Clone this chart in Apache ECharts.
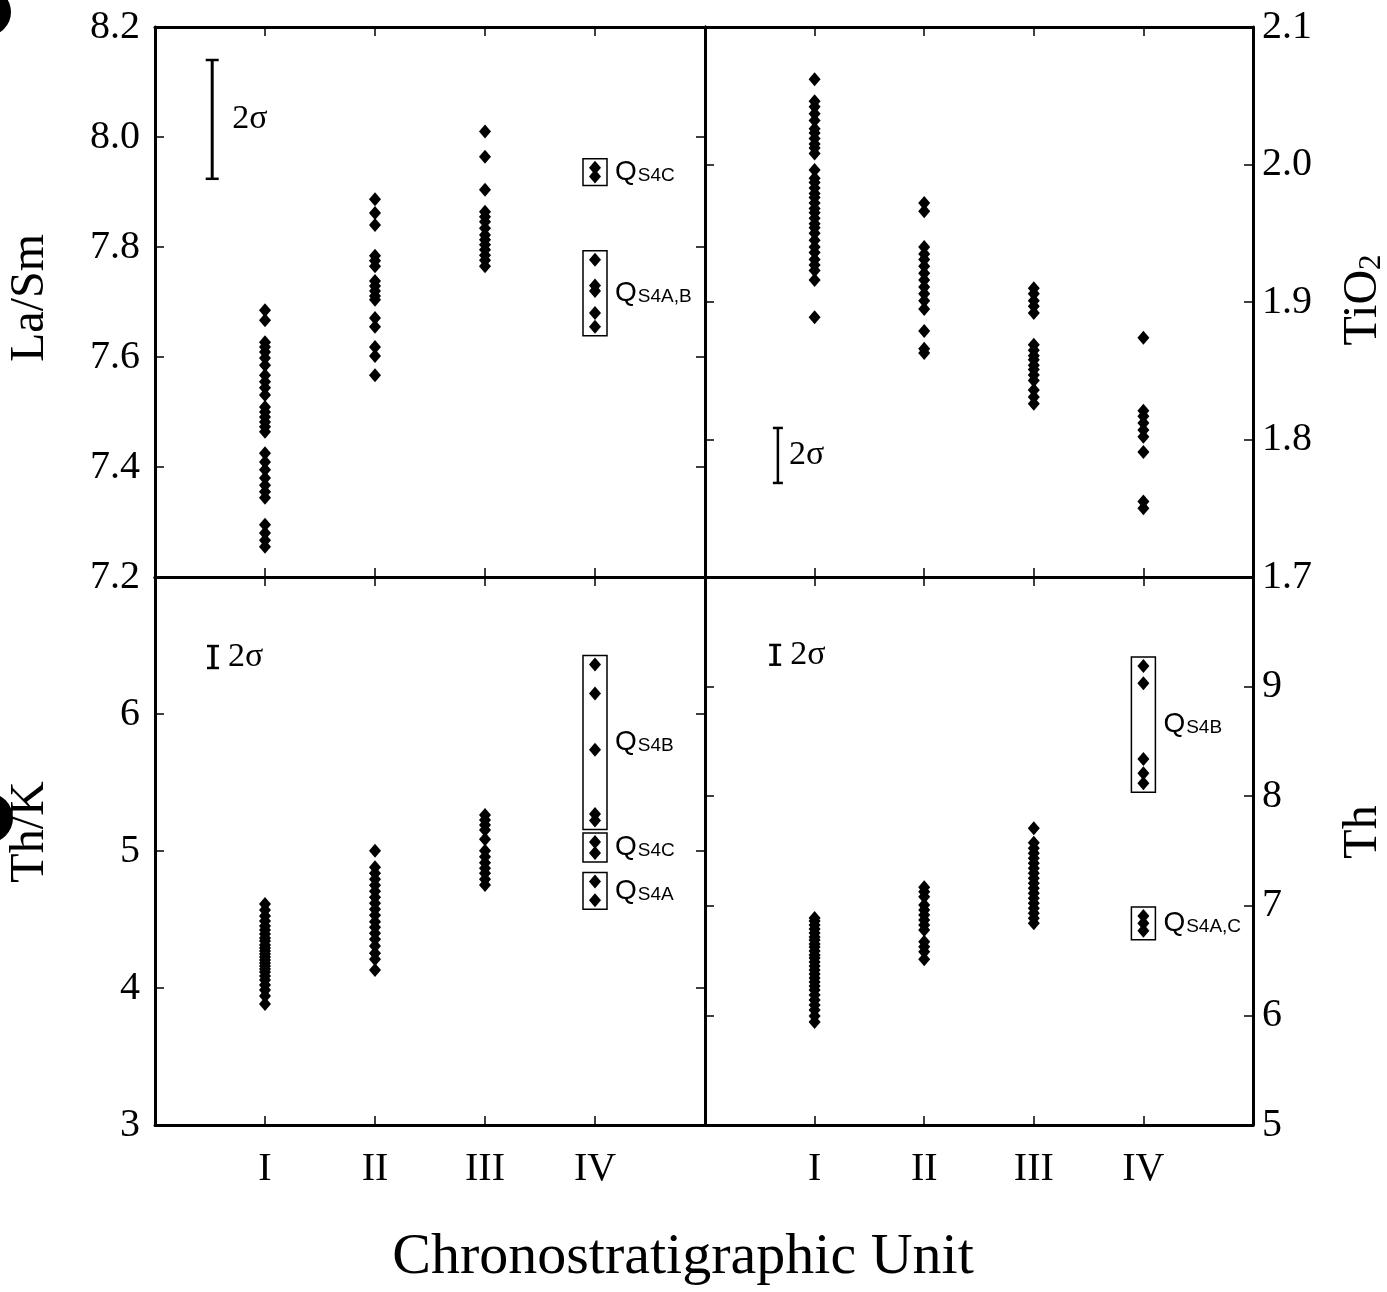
<!DOCTYPE html>
<html>
<head>
<meta charset="utf-8">
<script src="https://cdn.jsdelivr.net/npm/echarts@6/dist/echarts.min.js"></script>
<style>
  html, body { margin: 0; padding: 0; background: #fff; }
  #chart { width: 1387px; height: 1292px; }
</style>
</head>
<body>
<div id="chart"></div>
<script>
// Chronostratigraphic units on the shared x axis
const unitNames = ['I', 'II', 'III', 'IV'];

// Axis ranges: [min, max, interval]
const laSmRange = [7.2, 8.2, 0.2];
const tio2Range = [1.7, 2.1, 0.1];
const thKRange = [3, 7, 1];
const thRange = [5, 10, 1];

// La/Sm
const laSmUnitI = [7.685, 7.667, 7.627, 7.618, 7.609, 7.598, 7.585, 7.567, 7.555, 7.544, 7.531, 7.509, 7.500, 7.491, 7.482, 7.473, 7.464, 7.425, 7.409, 7.395, 7.380, 7.367, 7.355, 7.344, 7.295, 7.280, 7.267, 7.255];
const laSmUnitII = [7.887, 7.862, 7.840, 7.784, 7.775, 7.765, 7.738, 7.729, 7.720, 7.711, 7.704, 7.671, 7.655, 7.618, 7.602, 7.567];
const laSmUnitIII = [8.010, 7.964, 7.904, 7.864, 7.855, 7.846, 7.834, 7.822, 7.813, 7.804, 7.795, 7.785, 7.776, 7.765];
const laSmQs4c = [7.944, 7.928];
const laSmQs4ab = [7.777, 7.730, 7.720, 7.680, 7.655];

// TiO2
const tio2UnitI = [2.062, 2.046, 2.042, 2.037, 2.032, 2.026, 2.023, 2.019, 2.015, 2.012, 2.008, 1.996, 1.990, 1.987, 1.983, 1.979, 1.976, 1.972, 1.968, 1.965, 1.961, 1.957, 1.954, 1.950, 1.945, 1.940, 1.936, 1.931, 1.927, 1.923, 1.916, 1.889];
const tio2UnitII = [1.972, 1.966, 1.940, 1.935, 1.931, 1.926, 1.921, 1.916, 1.911, 1.906, 1.901, 1.895, 1.879, 1.866, 1.863];
const tio2UnitIII = [1.910, 1.906, 1.901, 1.897, 1.892, 1.869, 1.865, 1.861, 1.858, 1.854, 1.851, 1.847, 1.843, 1.836, 1.831, 1.826];
const tio2UnitIV = [1.874, 1.821, 1.817, 1.812, 1.807, 1.802, 1.791, 1.755, 1.750];

// Th/K
const thKUnitI = [4.613, 4.569, 4.526, 4.489, 4.453, 4.423, 4.394, 4.365, 4.343, 4.314, 4.292, 4.270, 4.248, 4.226, 4.204, 4.182, 4.161, 4.139, 4.117, 4.088, 4.058, 4.022, 3.985, 3.942, 3.883];
const thKUnitII = [5.002, 4.881, 4.837, 4.793, 4.750, 4.706, 4.662, 4.618, 4.574, 4.531, 4.484, 4.443, 4.399, 4.355, 4.307, 4.253, 4.209, 4.131];
const thKUnitIII = [5.263, 5.226, 5.190, 5.153, 5.085, 5.002, 4.958, 4.915, 4.874, 4.837, 4.793, 4.752];
const thKQs4b = [6.362, 6.150, 5.739, 5.270, 5.223];
const thKQs4c = [5.066, 4.985];
const thKQs4a = [4.778, 4.640];

// Th
const thUnitI = [6.889, 6.861, 6.825, 6.788, 6.752, 6.715, 6.688, 6.651, 6.624, 6.588, 6.551, 6.524, 6.487, 6.451, 6.414, 6.378, 6.341, 6.305, 6.268, 6.232, 6.186, 6.141, 6.095, 6.049, 5.995, 5.940];
const thUnitII = [7.169, 7.129, 7.083, 7.007, 6.962, 6.916, 6.870, 6.825, 6.779, 6.672, 6.627, 6.581, 6.512];
const thUnitIII = [7.707, 7.576, 7.525, 7.479, 7.433, 7.388, 7.342, 7.297, 7.251, 7.205, 7.160, 7.114, 7.068, 7.023, 6.977, 6.932, 6.886, 6.840];
const thQs4b = [9.188, 9.030, 8.339, 8.209, 8.118];
const thQs4ac = [6.907, 6.840, 6.773];

// Analytical uncertainty (full 2-sigma span) for each quantity
const laSmTwoSigma = 0.216;
const tio2TwoSigma = 0.040;
const thKTwoSigma = 0.16;
const thTwoSigma = 0.18;

const SERIF = '"Liberation Serif", "Times New Roman", serif';
const SANS = '"Liberation Sans", Arial, sans-serif';

const grids = [
  { left: 155, top: 27, width: 550, height: 550 },
  { left: 705, top: 27, width: 548, height: 550 },
  { left: 155, top: 577, width: 550, height: 548 },
  { left: 705, top: 577, width: 548, height: 548 }
];

const lineStyle = { color: '#000', width: 3 };
const tickStyle = { show: true, inside: true, length: 9, lineStyle: { color: '#000', width: 1.5 } };

function xAxisFor(gi, position, showLabel) {
  return {
    type: 'value', gridIndex: gi, position: position,
    min: 0, max: 5, interval: 1,
    axisLine: { show: true, onZero: false, lineStyle: lineStyle },
    axisTick: tickStyle,
    splitLine: { show: false },
    axisLabel: {
      show: showLabel, margin: 24, color: '#000',
      fontFamily: SERIF, fontSize: 40,
      formatter: v => unitNames[v - 1] || ''
    }
  };
}

function yAxisFor(gi, position, range, showLabel, fmt) {
  return {
    type: 'value', gridIndex: gi, position: position,
    min: range[0], max: range[1], interval: range[2],
    axisLine: { show: true, onZero: false, lineStyle: lineStyle },
    axisTick: tickStyle,
    splitLine: { show: false },
    axisLabel: {
      show: showLabel, margin: position === 'left' ? 15 : 9, color: '#000',
      fontFamily: SERIF, fontSize: 40, formatter: fmt
    }
  };
}

const fmt1 = v => v.toFixed(1);
const xAxes = [];
const yAxes = [];
const ranges = [laSmRange, tio2Range, thKRange, thRange];
const formatters = [
  fmt1, fmt1,
  v => (Math.abs(v - 7) < 1e-9 ? '' : String(Math.round(v))),
  v => (Math.abs(v - 10) < 1e-9 ? '' : String(Math.round(v)))
];
for (let gi = 0; gi < 4; gi++) {
  xAxes.push(xAxisFor(gi, 'bottom', gi >= 2));
  xAxes.push(xAxisFor(gi, 'top', false));
  const labelsLeft = gi % 2 === 0;
  yAxes.push(yAxisFor(gi, 'left', ranges[gi], labelsLeft, formatters[gi]));
  yAxes.push(yAxisFor(gi, 'right', ranges[gi], !labelsLeft, formatters[gi]));
}

function scatter(gi, unitIndex, values) {
  return {
    type: 'scatter', xAxisIndex: 2 * gi, yAxisIndex: 2 * gi,
    symbol: 'diamond', symbolSize: [12, 14],
    itemStyle: { color: '#000', opacity: 1 },
    silent: true, z: 3,
    data: values.map(v => [unitIndex, v])
  };
}

// Outlined box around a sample group in unit IV, labelled Q with a small-caps suffix
function groupBoxes(gi, groups) {
  const pad = 9;
  return {
    type: 'custom', xAxisIndex: 2 * gi, yAxisIndex: 2 * gi, silent: true, z: 2,
    data: groups.map(g => [4, Math.min(...g.values), Math.max(...g.values)]),
    renderItem: (params, api) => {
      const g = groups[params.dataIndex];
      const top = api.coord([api.value(0), api.value(2)]);
      const bot = api.coord([api.value(0), api.value(1)]);
      const x0 = top[0] - 12;
      const y0 = top[1] - pad;
      const h = bot[1] - top[1] + 2 * pad;
      return {
        type: 'group',
        children: [
          { type: 'rect', shape: { x: x0, y: y0, width: 24, height: h },
            style: { fill: 'none', stroke: '#000', lineWidth: 1.5 } },
          { type: 'text', x: x0 + 32, y: y0 + h / 2,
            style: {
              text: '{q|Q}{s|' + g.sub + '}',
              align: 'left', verticalAlign: 'middle',
              rich: {
                q: { fontFamily: SANS, fontSize: 28, fill: '#000', verticalAlign: 'bottom' },
                s: { fontFamily: SANS, fontSize: 19, fill: '#000', verticalAlign: 'bottom', padding: [0, 0, 1, 1] }
              }
            } }
        ]
      };
    }
  };
}

// 2-sigma scale bar placed inside a panel
function sigmaBar(gi, xPos, yCenter, span, cap, stem, textGap) {
  return {
    type: 'custom', xAxisIndex: 2 * gi, yAxisIndex: 2 * gi, silent: true, z: 2,
    data: [[xPos, yCenter - span / 2, yCenter + span / 2]],
    renderItem: (params, api) => {
      const hi = api.coord([api.value(0), api.value(2)]);
      const lo = api.coord([api.value(0), api.value(1)]);
      const x = hi[0];
      const st = { stroke: '#000', lineWidth: stem };
      return {
        type: 'group',
        children: [
          { type: 'line', shape: { x1: x, y1: hi[1], x2: x, y2: lo[1] }, style: st },
          { type: 'line', shape: { x1: x - cap / 2, y1: hi[1], x2: x + cap / 2, y2: hi[1] }, style: { stroke: '#000', lineWidth: 2.5 } },
          { type: 'line', shape: { x1: x - cap / 2, y1: lo[1], x2: x + cap / 2, y2: lo[1] }, style: { stroke: '#000', lineWidth: 2.5 } },
          { type: 'text', x: x + textGap, y: (hi[1] + lo[1]) / 2,
            style: { text: '2σ', font: '34px ' + SERIF, fill: '#000', align: 'left', verticalAlign: 'middle' } }
        ]
      };
    }
  };
}

const series = [
  scatter(0, 1, laSmUnitI), scatter(0, 2, laSmUnitII), scatter(0, 3, laSmUnitIII),
  scatter(0, 4, laSmQs4c), scatter(0, 4, laSmQs4ab),
  groupBoxes(0, [{ values: laSmQs4c, sub: 'S4C' }, { values: laSmQs4ab, sub: 'S4A,B' }]),
  sigmaBar(0, 0.52, 8.032, laSmTwoSigma, 13, 3, 20),

  scatter(1, 1, tio2UnitI), scatter(1, 2, tio2UnitII), scatter(1, 3, tio2UnitIII), scatter(1, 4, tio2UnitIV),
  sigmaBar(1, 0.665, 1.7884, tio2TwoSigma, 10, 2.5, 11),

  scatter(2, 1, thKUnitI), scatter(2, 2, thKUnitII), scatter(2, 3, thKUnitIII),
  scatter(2, 4, thKQs4b), scatter(2, 4, thKQs4c), scatter(2, 4, thKQs4a),
  groupBoxes(2, [{ values: thKQs4b, sub: 'S4B' }, { values: thKQs4c, sub: 'S4C' }, { values: thKQs4a, sub: 'S4A' }]),
  sigmaBar(2, 0.527, 6.416, thKTwoSigma, 12, 3.5, 15),

  scatter(3, 1, thUnitI), scatter(3, 2, thUnitII), scatter(3, 3, thUnitIII),
  scatter(3, 4, thQs4b), scatter(3, 4, thQs4ac),
  groupBoxes(3, [{ values: thQs4b, sub: 'S4B' }, { values: thQs4ac, sub: 'S4A,C' }]),
  sigmaBar(3, 0.64, 9.29, thTwoSigma, 12, 3.5, 15)
];

function vTitle(x, y, rich, text) {
  return {
    type: 'text', x: x, y: y, rotation: Math.PI / 2,
    style: { text: text, rich: rich, font: '48px ' + SERIF, fill: '#000', align: 'center', verticalAlign: 'middle' }
  };
}

const chart = echarts.init(document.getElementById('chart'), null, { renderer: 'canvas' });
chart.setOption({
  animation: false,
  backgroundColor: '#fff',
  textStyle: { fontFamily: SERIF },
  grid: grids,
  xAxis: xAxes,
  yAxis: yAxes,
  series: series,
  graphic: [
    vTitle(30, 298, null, 'La/Sm'),
    vTitle(30, 832, null, 'Th/K'),
    vTitle(1363, 300, {
      a: { fontFamily: SERIF, fontSize: 48, fill: '#000' },
      b: { fontFamily: SERIF, fontSize: 31, fill: '#000', verticalAlign: 'bottom' }
    }, '{a|TiO}{b|2}'),
    vTitle(1363, 832, null, 'Th'),
    { type: 'text', x: 683, y: 1258,
      style: { text: 'Chronostratigraphic Unit', font: '58px ' + SERIF, fill: '#000', align: 'center', verticalAlign: 'middle' } },
    { type: 'circle', shape: { cx: -13, cy: 12, r: 24 }, style: { fill: '#000' } },
    { type: 'circle', shape: { cx: -12, cy: 818, r: 25 }, style: { fill: '#000' } }
  ]
});
</script>
</body>
</html>
